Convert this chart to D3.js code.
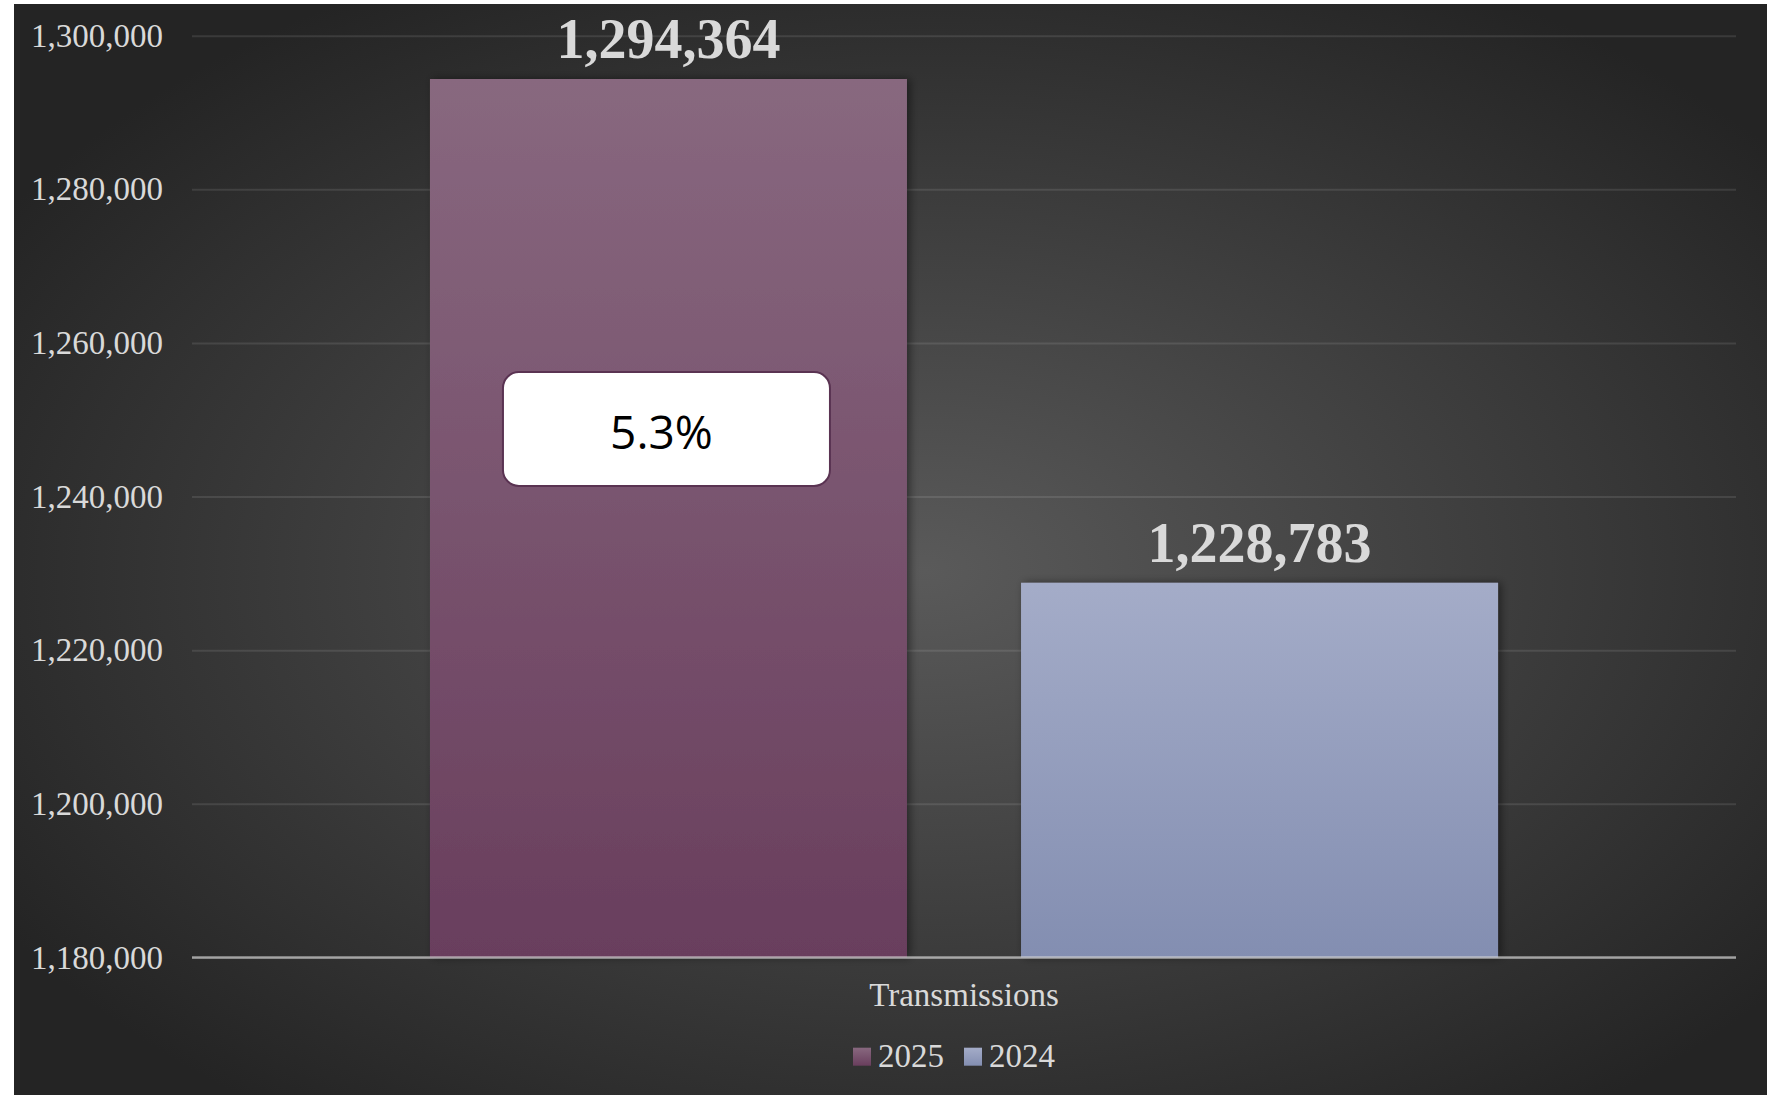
<!DOCTYPE html>
<html>
<head>
<meta charset="utf-8">
<script src="https://cdn.jsdelivr.net/npm/d3@7"></script>
<style>
  html, body { margin: 0; padding: 0; background: #fff; }
  svg { display: block; }
</style>
</head>
<body>
<div id="chart"></div>
<script>
// data
const categories = ['Transmissions']
const seriesNames = ['2025', '2024']
const seriesValues = [1294364, 1228783]
const yTicks = [1180000, 1200000, 1220000, 1240000, 1260000, 1280000, 1300000]

const W = 1767
const H = 1095
let margin = { top: 35.7, left: 192, right: 31, bottom: 137.5 }
let width = W - margin.left - margin.right
let height = H - margin.top - margin.bottom

let svg = d3.select('#chart')
  .append('svg')
  .attr('width', W)
  .attr('height', H)

let defs = svg.append('defs')

let bg = defs.append('radialGradient')
  .attr('id', 'bg')
  .attr('cx', '52%').attr('cy', '52%').attr('r', '62%')
bg.append('stop').attr('offset', '0%').attr('stop-color', '#5a5a5a')
bg.append('stop').attr('offset', '100%').attr('stop-color', '#242424')

const barGrad = {
  '2025': ['#88687f', '#693e5d'],
  '2024': ['#a4acc8', '#838eb1']
}
seriesNames.forEach(s => {
  let g = defs.append('linearGradient')
    .attr('id', 'grad' + s)
    .attr('x1', 0).attr('y1', 0).attr('x2', 0).attr('y2', 1)
  g.append('stop').attr('offset', '0%').attr('stop-color', barGrad[s][0])
  g.append('stop').attr('offset', '100%').attr('stop-color', barGrad[s][1])
})

let shadow = defs.append('filter')
  .attr('id', 'shadow')
  .attr('x', '-10%').attr('y', '-10%').attr('width', '120%').attr('height', '120%')
shadow.append('feDropShadow')
  .attr('dx', 3).attr('dy', 0)
  .attr('stdDeviation', 4)
  .attr('flood-color', '#000')
  .attr('flood-opacity', 0.45)

// chart background
svg.append('rect')
  .attr('x', 14).attr('y', 4)
  .attr('width', W - 14).attr('height', H - 4)
  .attr('fill', 'url(#bg)')

let chart = svg.append('g')
  .attr('transform', `translate(${margin.left},${margin.top})`)

let y = d3.scaleLinear()
  .domain([1180000, 1300000])
  .range([height, 0])

let x0 = d3.scaleBand()
  .domain(categories)
  .range([0, width])
  .paddingOuter(0.2228)
  .paddingInner(0)

let x1 = d3.scaleBand()
  .domain(seriesNames)
  .range([0, x0.bandwidth()])
  .paddingInner(0.193)
  .paddingOuter(0)

// gridlines
chart.append('g')
  .attr('class', 'grid')
  .call(d3.axisLeft(y).tickValues(yTicks).tickSize(-width).tickFormat(''))
  .call(g => g.select('.domain').remove())
  .call(g => g.selectAll('line')
    .attr('stroke', '#ffffff')
    .attr('stroke-opacity', 0.1)
    .attr('stroke-width', 2))

// y axis labels
chart.append('g')
  .call(d3.axisLeft(y).tickValues(yTicks).tickSize(0).tickPadding(29).tickFormat(d3.format(',')))
  .call(g => g.select('.domain').remove())
  .call(g => g.selectAll('text')
    .attr('fill', '#d9d9d9')
    .attr('font-family', '"Liberation Serif", serif')
    .attr('font-size', 33))

// bars
let cat = chart.selectAll('.cat')
  .data(categories)
  .enter()
  .append('g')
  .attr('class', 'cat')
  .attr('transform', d => `translate(${x0(d)},0)`)

let bars = seriesNames.map((s, i) => ({ series: s, value: seriesValues[i] }))

cat.selectAll('.bar')
  .data(bars)
  .enter()
  .append('rect')
  .attr('class', 'bar')
  .attr('x', d => x1(d.series))
  .attr('y', d => y(d.value))
  .attr('width', x1.bandwidth())
  .attr('height', d => height - y(d.value))
  .attr('fill', d => `url(#grad${d.series})`)
  .attr('filter', 'url(#shadow)')

// x axis line
chart.append('line')
  .attr('x1', 0).attr('x2', width)
  .attr('y1', height).attr('y2', height)
  .attr('stroke', '#d9d9d9')
  .attr('stroke-opacity', 0.65)
  .attr('stroke-width', 2.5)

// value labels
cat.selectAll('.value')
  .data(bars)
  .enter()
  .append('text')
  .attr('class', 'value')
  .attr('x', d => x1(d.series) + x1.bandwidth() / 2)
  .attr('y', d => y(d.value) - 21)
  .attr('text-anchor', 'middle')
  .attr('fill', '#d9d9d9')
  .attr('font-family', '"Liberation Serif", serif')
  .attr('font-weight', 'bold')
  .attr('font-size', 56)
  .text(d => d3.format(',')(d.value))

// change annotation box on 2025 bar
let change = (seriesValues[0] - seriesValues[1]) / seriesValues[1]
let boxAnchor = 1248800
let bx = x0(categories[0]) + x1(seriesNames[0]) + x1.bandwidth() / 2 - 2
let by = y(boxAnchor)
let box = chart.append('g').attr('transform', `translate(${bx},${by})`)
box.append('rect')
  .attr('x', -163.5).attr('y', -57)
  .attr('width', 327).attr('height', 114)
  .attr('rx', 16)
  .attr('fill', '#ffffff')
  .attr('stroke', '#5a3352')
  .attr('stroke-width', 2)
box.append('text')
  .attr('x', -5)
  .attr('y', 20)
  .attr('text-anchor', 'middle')
  .attr('fill', '#000')
  .attr('font-family', '"Open Sans", sans-serif')
  .attr('font-size', 46)
  .text(d3.format('.1%')(change))

// category label
chart.append('text')
  .attr('x', x0(categories[0]) + x0.bandwidth() / 2)
  .attr('y', height + 49)
  .attr('text-anchor', 'middle')
  .attr('fill', '#d9d9d9')
  .attr('font-family', '"Liberation Serif", serif')
  .attr('font-size', 33)
  .text(categories[0])

// legend
let legend = svg.append('g').attr('transform', 'translate(853,1066.7)')
let legendX = [0, 111]
legend.selectAll('.legend-entry')
  .data(seriesNames)
  .enter()
  .append('g')
  .attr('class', 'legend-entry')
  .attr('transform', (d, i) => `translate(${legendX[i]},0)`)
  .each(function (d) {
    let g = d3.select(this)
    g.append('rect')
      .attr('x', 0).attr('y', -19)
      .attr('width', 18).attr('height', 18)
      .attr('fill', `url(#grad${d})`)
    g.append('text')
      .attr('x', 25)
      .attr('y', 0)
      .attr('fill', '#d9d9d9')
      .attr('font-family', '"Liberation Serif", serif')
      .attr('font-size', 33)
      .text(d)
  })
</script>
</body>
</html>
